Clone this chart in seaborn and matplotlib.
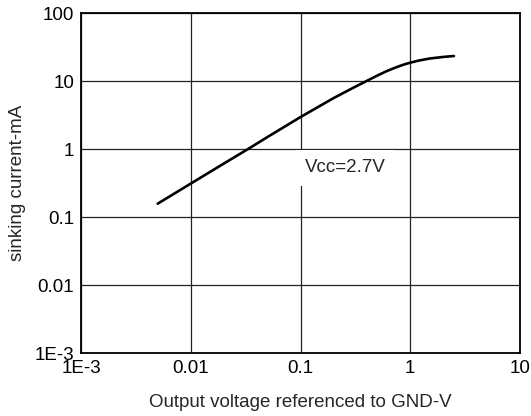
import numpy as np
import pandas as pd
import matplotlib
matplotlib.use("Agg")
import matplotlib.pyplot as plt
import seaborn as sns

# datos (Vcc=2.7V)
voltage = [0.005, 0.01, 0.02, 0.035, 0.05, 0.1, 0.2, 0.3, 0.4, 0.5, 0.6, 0.7, 0.8, 0.9, 1.0, 1.2, 1.5, 2.0, 2.5]
current = [0.157, 0.31, 0.61, 1.05, 1.5, 2.95, 5.6, 7.9, 10.0, 12.0, 13.8, 15.3, 16.6, 17.7, 18.6, 20.0, 21.4, 22.6, 23.3]

x_ticks = [1e-3, 0.01, 0.1, 1, 10]
x_labels = ["1E-3", "0.01", "0.1", "1", "10"]
y_ticks = [1e-3, 0.01, 0.1, 1, 10, 100]
y_labels = ["1E-3", "0.01", "0.1", "1", "10", "100"]

df = pd.DataFrame({"voltage": voltage, "current": current})

sns.set_style("white")
plt.rcParams["font.family"] = ["Liberation Sans", "DejaVu Sans"]

fig = plt.figure(figsize=(5.31, 4.16), dpi=100)
ax = fig.add_axes([81 / 531, 63 / 416, 439 / 531, 340 / 416])

sns.lineplot(data=df, x="voltage", y="current", ax=ax, color="black", linewidth=1.9, zorder=3)

ax.set_xscale("log")
ax.set_yscale("log")
ax.set_xlim(1e-3, 10)
ax.set_ylim(1e-3, 100)
ax.set_xticks(x_ticks)
ax.set_xticklabels(x_labels)
ax.set_yticks(y_ticks)
ax.set_yticklabels(y_labels)
ax.minorticks_off()
ax.tick_params(length=0, labelsize=13.5, labelcolor="black")
ax.tick_params(axis="x", pad=5)
ax.tick_params(axis="y", pad=5)

ax.grid(True, color="#222222", linewidth=0.9, zorder=1)
for s in ax.spines.values():
    s.set_color("black")
    s.set_linewidth(1.3)

ax.set_xlabel("Output voltage referenced to GND-V", fontsize=13.5, labelpad=12)
ax.set_ylabel("sinking current-mA", fontsize=13.5, labelpad=6)

ax.text(0.11, 0.53, "Vcc=2.7V", fontsize=13.5, ha="left", va="center", zorder=4,
        bbox=dict(boxstyle="square,pad=0.5", facecolor="white", edgecolor="none"))

fig.savefig("out.png", dpi=100)
